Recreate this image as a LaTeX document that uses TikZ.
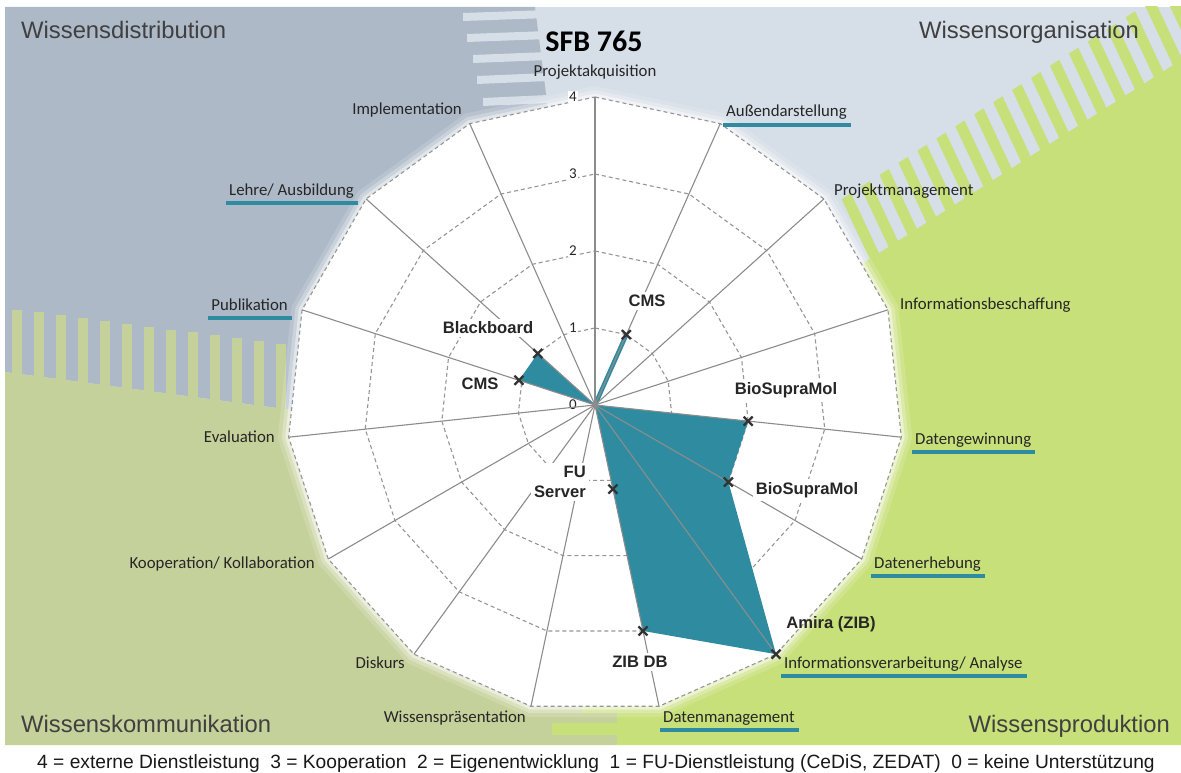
\documentclass[tikz,border=0pt]{standalone}
\usepackage{fontspec}
\setmainfont{Carlito}
\newfontfamily\arial{Liberation Sans}
\definecolor{bgdark}{RGB}{173,185,199}
\definecolor{bglight}{RGB}{214,222,231}
\definecolor{bgolive}{RGB}{197,209,155}
\definecolor{bggreen}{RGB}{200,224,122}
\definecolor{sfbteal}{RGB}{47,140,160}
\definecolor{axisgray}{RGB}{140,140,140}
\definecolor{ringgray}{RGB}{150,150,150}
\definecolor{txt}{RGB}{38,38,38}
\definecolor{qtxt}{RGB}{64,64,64}
\newcommand\ringpath[1]{(-90:#1) \foreach \rr in {1,...,14}{ -- (24*\rr-90:#1)} -- cycle}
\begin{document}
\begin{tikzpicture}[x=1pt,y=-1pt,
  alabel/.style={font=\fontsize{16.8}{19}\selectfont, text=txt, inner sep=1pt},
  dlabel/.style={font=\arial\bfseries\fontsize{16.6}{20}\selectfont, text=txt, fill=white, inner sep=3pt},
  qlabel/.style={font=\arial\fontsize{23.8}{26}\selectfont, text=qtxt, inner sep=0pt},
  nlabel/.style={font=\fontsize{15}{16}\selectfont, text=txt, fill=white, inner sep=1pt},
  uline/.style={sfbteal, line width=3.5pt},
  gridring/.style={draw=ringgray, line width=1.1pt, dash pattern=on 4pt off 3pt},
  spoke/.style={axisgray, line width=1.1pt},
  xmark/.pic={\draw[line width=2.3pt, black!80] (-4.5,-4.5) -- (4.5,4.5) (-4.5,4.5) -- (4.5,-4.5);}]
  \useasboundingbox (0,0) rectangle (1181,773);
  \fill[white] (0,0) rectangle (1181,773);
  % background quadrants
  \begin{scope}
    \clip (5,7) rectangle (1181,745);
    \fill[bglight] (5,7) rectangle (1181,745);
    \fill[bgdark] (5,7) -- (535,7) -- (548,110) -- (595,405) -- (300,411) -- (5,372) -- cycle;
    \fill[bgolive] (5,372) -- (300,411) -- (595,405) -- (617,690) -- (617,745) -- (5,745) -- cycle;
    \fill[bggreen] (617,745) -- (617,690) -- (650,500) -- (790,310) -- (1181,60) -- (1181,745) -- cycle;
    \foreach \y/\l in {17/463,38/467,59/473,80/477,102/483}
      \fill[bglight] (\l,\y-4) -- (548,\y-7) -- (548,\y+1) -- (\l,\y+4) -- cycle;
    \foreach \k in {0,...,12}
      \fill[bgolive] ({12+22*\k},{374+0.13*(12+22*\k)}) rectangle ++(10,-66);
    \foreach \t in {-4,18.5,...,420}
      \fill[bggreen] ({875+0.842*\t},{261-0.539*\t}) -- ++(9.3,-5.9) -- ++(-30,-64) -- ++(-9.3,5.9) -- cycle;
    \fill[bggreen] (582,700) rectangle (620,713);
    \fill[bggreen] (552,723) rectangle (620,735);
  \end{scope}
  % radar
  \begin{scope}[shift={(595,405)}]
    \foreach \g/\o [evaluate=\g as \gr using 308+\g] in {11/0.15,7/0.25,3.5/0.45}
      \fill[white,opacity=\o] \ringpath{\gr};
    \fill[white] \ringpath{308};
    \coordinate (c) at (0,0);
    \foreach \k in {0,...,14} \coordinate (v\k) at (24*\k-90:308);
    \foreach \r in {77,154,231,308} \draw[gridring] \ringpath{\r};
    \coordinate (cmsA) at (-66:77);
    \coordinate (bioA) at (6:154);
    \coordinate (bioB) at (30:154);
    \coordinate (amira) at (54:308);
    \coordinate (zib) at (78:231);
    \coordinate (fus) at (78:86);
    \coordinate (bb) at (222:77);
    \coordinate (cmsB) at (198:80);
  \end{scope}
  \foreach \n in {0,...,4} \node[nlabel] (n\n) at (573,{405-77*\n}) {\n};
  \fill[sfbteal] (c) -- (bioA) -- (bioB) -- (amira) -- (zib) -- cycle;
  \fill[sfbteal] (c) -- (bb) -- (cmsB) -- cycle;
  \draw[sfbteal, line width=4.5pt] (c) -- (cmsA);
  \foreach \k in {0,...,14} \draw[spoke] (c) -- (v\k);
  \foreach \p in {cmsA,bioA,bioB,amira,zib,fus,bb,cmsB} \pic at (\p) {xmark};
  % data labels
  \node[dlabel] (tcmsA) at (647,301) {CMS};
  \node[dlabel] (tbb) at (488,328) {Blackboard};
  \node[dlabel] (tcmsB) at (480,384) {CMS};
  \node[dlabel] (tbioA) at (786,390) {BioSupraMol};
  \node[dlabel] (tbioB) at (807,490) {BioSupraMol};
  \node[dlabel, anchor=east, align=right] (tfus) at (589,482) {FU\\Server};
  \node[dlabel] (tzib) at (640,662) {ZIB DB};
  \node[dlabel, fill=none] (tamira) at (831,624) {Amira (ZIB)};
  % axis labels
  \node[alabel, anchor=base] (l0) at (595,77) {Projektakquisition};
  \node[alabel, anchor=base west] (l1) at (725,117) {Außendarstellung};
  \node[alabel, anchor=base west] (l2) at (833,195) {Projektmanagement};
  \node[alabel, anchor=base west] (l3) at (899,309) {Informationsbeschaffung};
  \node[alabel, anchor=base west] (l4) at (914,444) {Datengewinnung};
  \node[alabel, anchor=base west] (l5) at (873,568) {Datenerhebung};
  \node[alabel, anchor=base west] (l6) at (783,668) {Informationsverarbeitung/ Analyse};
  \node[alabel, anchor=base west] (l7) at (662,722) {Datenmanagement};
  \node[alabel, anchor=base east] (l8) at (527,722) {Wissenspräsentation};
  \node[alabel, anchor=base east] (l9) at (406,668) {Diskurs};
  \node[alabel, anchor=base east] (l10) at (316,568) {Kooperation/ Kollaboration};
  \node[alabel, anchor=base east] (l11) at (276,442) {Evaluation};
  \node[alabel, anchor=base east] (l12) at (289,310) {Publikation};
  \node[alabel, anchor=base east] (l13) at (355,195) {Lehre/ Ausbildung};
  \node[alabel, anchor=base east] (l14) at (463,115) {Implementation};
  \foreach \u in {l1,l4,l5,l6,l7,l12,l13}
    \draw[uline] ([xshift=-2pt,yshift=-8pt]\u.base west) -- ([xshift=3pt,yshift=-8pt]\u.base east);
  % titles
  \node[font=\bfseries\fontsize{30}{32}\selectfont, inner sep=0pt] (title) at (594,41) {SFB 765};
  \node[qlabel, anchor=base west] (qdist) at (21,38.5) {Wissensdistribution};
  \node[qlabel, anchor=base east] (qorg) at (1139,38.5) {Wissensorganisation};
  \node[qlabel, anchor=base west] (qkom) at (21,732) {Wissenskommunikation};
  \node[qlabel, anchor=base east] (qprod) at (1170,732) {Wissensproduktion};
  \node[font=\arial\fontsize{19.2}{21}\selectfont, text=black!90, anchor=base, inner sep=0pt] (legend) at (596,768)
    {4 = externe Dienstleistung~~3 = Kooperation~~2 = Eigenentwicklung~~1 = FU-Dienstleistung (CeDiS, ZEDAT)~~0 = keine Unterstützung};
\end{tikzpicture}
\end{document}
